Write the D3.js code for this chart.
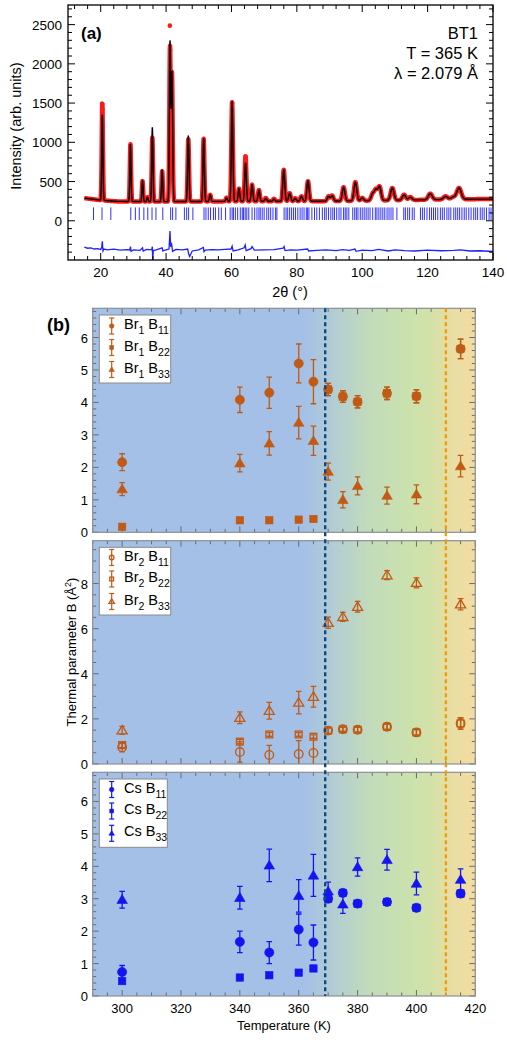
<!DOCTYPE html>
<html><head><meta charset="utf-8">
<script src="https://cdn.jsdelivr.net/npm/d3@7"></script>
<style>
html,body{margin:0;padding:0;background:#fff;}
svg{display:block;font-family:"Liberation Sans",Arial,Helvetica,sans-serif;}
</style></head>
<body><svg id="chart" width="507" height="1040"></svg>
<script>
// ---------- Panel (a) data ----------
const xTicksA = [20, 40, 60, 80, 100, 120, 140];
const yTicksA = [0, 500, 1000, 1500, 2000, 2500];
const bgPos = [15, 20, 25, 40, 55, 70, 90, 105, 120, 135, 140];
const bgVal = [289, 262, 247, 244, 247, 248, 250, 258, 268, 276, 276];
const peakPos = [20.5, 29.1, 32.8, 34.3, 35.8, 38.8, 41.2, 41.8, 46.8, 51.5, 53.5, 58.5, 60.2, 62.3, 64.3, 66.3, 68.4, 70.5, 73.0, 76.0, 77.8, 79.5, 81.4, 83.4, 89.7, 90.8, 94.3, 97.9, 100.0, 103.2, 104.2, 105.3, 109.2, 112.8, 114.7, 120.8, 125.5, 127.8, 129.6];
const calcTop = [1352, 978, 510, 300, 1190, 640, 2266, 1880, 1084, 1054, 330, 290, 1522, 408, 735, 460, 390, 285, 275, 650, 350, 285, 310, 510, 310, 320, 425, 490, 290, 340, 387, 430, 417, 330, 300, 345, 310, 300, 417];
const obsTop = [1490, 975, 505, 300, 1060, 630, 2200, 1880, 1040, 1045, 330, 295, 1510, 410, 820, 460, 392, 290, 280, 650, 352, 288, 312, 505, 312, 322, 428, 492, 292, 342, 390, 432, 418, 332, 302, 346, 312, 302, 418];
const peakFwhm = [0.42, 0.42, 0.42, 0.45, 0.45, 0.45, 0.45, 0.5, 0.5, 0.5, 0.55, 0.6, 0.55, 0.6, 0.6, 0.6, 0.65, 0.7, 0.7, 0.7, 0.75, 0.75, 0.8, 0.8, 0.9, 0.9, 0.95, 1.0, 1.0, 1.1, 1.1, 1.1, 1.2, 1.2, 1.2, 1.4, 1.5, 1.5, 1.6];
const obsDotX = [20.45, 20.55, 41.15, 41.25, 64.3, 60.2];
const obsDotY = [1490, 1420, 2487, 2180, 820, 1500];
const reflPos = [17.8, 20.4, 23.1, 29.2, 30.6, 31.8, 33.2, 34.4, 35.7, 36.9, 39.0, 41.4, 42.0, 43.0, 45.6, 46.3, 46.9, 48.2, 51.6, 52.2, 52.9, 53.6, 54.5, 55.1, 56.1, 56.9, 58.2, 59.6, 60.2, 60.6, 61.2, 61.9, 62.7, 63.3, 63.7, 64.2, 64.7, 65.3, 66.3, 67.1, 67.8, 68.4, 68.8, 69.4, 70.0, 70.8, 71.4, 72.0, 72.7, 73.5, 73.9, 76.1, 76.7, 77.2, 77.8, 78.4, 79.0, 79.6, 80.3, 81.0, 81.6, 82.2, 82.9, 83.3, 83.7, 84.6, 85.4, 86.1, 86.9, 87.8, 88.5, 89.0, 89.7, 90.4, 91.0, 91.5, 92.2, 92.9, 93.5, 94.3, 94.8, 95.3, 95.9, 97.1, 97.7, 98.2, 98.7, 99.4, 100.0, 100.6, 101.2, 101.8, 102.4, 103.2, 104.0, 104.5, 105.1, 105.7, 106.3, 106.9, 107.6, 108.2, 108.8, 109.4, 110.6, 112.7, 113.2, 113.9, 114.5, 115.3, 115.9, 117.8, 118.4, 119.0, 119.8, 120.6, 121.2, 121.8, 122.4, 123.1, 123.9, 124.5, 125.1, 125.9, 126.5, 127.1, 128.0, 128.6, 129.2, 129.8, 130.5, 131.2, 131.8, 132.6, 133.3, 134.1, 134.7, 135.3, 136.1, 136.7, 137.3, 138.0, 138.8, 139.4];
const diffPos = [15, 16, 17, 18, 19, 20, 20.3, 20.5, 20.7, 21, 22, 24, 26, 28, 28.9, 29.1, 29.3, 30, 32, 32.8, 33, 34, 35.6, 35.8, 35.9, 36.1, 37, 38.8, 39, 40, 40.9, 41.2, 41.4, 41.7, 42, 43, 45, 46.6, 46.9, 47.2, 48, 50, 51.4, 51.6, 52, 54, 56, 58, 59.9, 60.2, 60.5, 62, 63.9, 64.2, 64.5, 66, 66.3, 67, 70, 73, 75.8, 76.1, 76.4, 78, 80, 83.3, 83.6, 86, 89, 92, 94, 96, 97.8, 98.1, 100, 103, 105, 108, 110, 113, 116, 120, 124, 128, 130, 133, 136, 140];
const diffVal = [-335, -350, -345, -360, -355, -365, -340, -262, -385, -360, -370, -362, -375, -368, -372, -330, -390, -370, -378, -345, -385, -365, -370, -330, -500, -380, -372, -345, -385, -370, -360, -130, -330, -300, -390, -365, -372, -360, -420, -455, -385, -370, -340, -395, -375, -368, -372, -365, -360, -325, -385, -370, -345, -310, -380, -355, -330, -375, -370, -368, -350, -328, -380, -372, -375, -360, -385, -378, -372, -380, -368, -378, -360, -390, -375, -380, -365, -385, -372, -380, -385, -375, -382, -378, -370, -385, -382, -392];

// ---------- Panel (b) data ----------
const temps = [300, 340, 350, 360, 365, 370, 375, 380, 390, 400, 415];
const xTicksB = [300, 320, 340, 360, 380, 400, 420];
const transitionT = [369, 410];
const br1B11 = [2.16, 4.08, 4.30, 5.20, 4.64, 4.40, 4.18, 4.02, 4.28, 4.19, 5.65];
const br1B11Err = [0.26, 0.39, 0.48, 0.60, 0.68, 0.19, 0.18, 0.19, 0.19, 0.20, 0.30];
const br1B22 = [0.17, 0.37, 0.37, 0.39, 0.41, 4.40, 4.18, 4.02, 4.28, 4.19, 5.65];
const br1B22Err = [0.02, 0.02, 0.02, 0.02, 0.02, 0.19, 0.18, 0.19, 0.19, 0.20, 0.30];
const br1B33 = [1.33, 2.13, 2.74, 3.38, 2.82, 1.87, 1.00, 1.43, 1.13, 1.17, 2.04];
const br1B33Err = [0.20, 0.27, 0.36, 0.50, 0.45, 0.26, 0.25, 0.28, 0.26, 0.29, 0.33];
const br2B11 = [0.74, 0.53, 0.40, 0.44, 0.49, 1.48, 1.54, 1.52, 1.65, 1.40, 1.80];
const br2B11Err = [0.20, 0.45, 0.43, 0.60, 0.65, 0.12, 0.10, 0.11, 0.12, 0.12, 0.25];
const br2B22 = [0.84, 0.99, 1.31, 1.31, 1.21, 1.48, 1.54, 1.52, 1.65, 1.40, 1.80];
const br2B22Err = [0.12, 0.10, 0.08, 0.08, 0.08, 0.12, 0.10, 0.11, 0.12, 0.12, 0.25];
const br2B33 = [1.49, 2.05, 2.36, 2.72, 2.98, 6.26, 6.52, 6.97, 8.37, 8.03, 7.08];
const br2B33Err = [0.18, 0.26, 0.37, 0.50, 0.46, 0.25, 0.20, 0.24, 0.20, 0.22, 0.25];
const csB11 = [0.74, 1.67, 1.34, 2.05, 1.65, 3.00, 3.18, 2.85, 2.90, 2.72, 3.16];
const csB11Err = [0.20, 0.33, 0.34, 0.48, 0.54, 0.08, 0.08, 0.08, 0.08, 0.08, 0.10];
const csB22 = [0.46, 0.57, 0.64, 0.72, 0.85, 3.00, 3.18, 2.85, 2.90, 2.72, 3.16];
const csB22Err = [0.03, 0.03, 0.03, 0.03, 0.03, 0.08, 0.08, 0.08, 0.08, 0.08, 0.10];
const csB33 = [2.97, 3.03, 4.03, 3.09, 3.72, 3.23, 2.83, 3.98, 4.20, 3.47, 3.59];
const csB33Err = [0.26, 0.35, 0.50, 0.50, 0.65, 0.28, 0.28, 0.28, 0.32, 0.35, 0.33];

// ---------- Drawing ----------
const svg = d3.select("#chart");

// ===== Panel (a) =====
const aL = 68, aR = 493, aT = 5, aB = 260;
const xA = d3.scaleLinear().domain([10, 140]).range([aL, aR]);
const yA = d3.scaleLinear().domain([-500, 2750]).range([aB, aT]);
const gA = svg.append("g");
gA.append("defs").append("clipPath").attr("id", "clipA")
  .append("rect").attr("x", aL).attr("y", aT).attr("width", aR - aL).attr("height", aB - aT);

const bgInterp = x => {
  let i = d3.bisectRight(bgPos, x) - 1;
  i = Math.max(0, Math.min(bgPos.length - 2, i));
  const t = (x - bgPos[i]) / (bgPos[i + 1] - bgPos[i]);
  return bgVal[i] + t * (bgVal[i + 1] - bgVal[i]);
};
function profile(tops) {
  const pts = [];
  for (let x = 15; x <= 140.0001; x += 0.02) {
    let v = bgInterp(x);
    for (let k = 0; k < peakPos.length; k++) {
      const d = x - peakPos[k];
      const w = peakFwhm[k];
      if (Math.abs(d) < 4 * w) v += (tops[k] - bgInterp(peakPos[k])) * Math.exp(-4 * Math.LN2 * d * d / (w * w));
    }
    pts.push([x, v]);
  }
  return pts;
}
const lineA = d3.line().x(d => xA(d[0])).y(d => yA(d[1]));
const plotA = gA.append("g").attr("clip-path", "url(#clipA)");
plotA.append("path").datum(profile(obsTop)).attr("d", lineA)
  .attr("fill", "none").attr("stroke", "#ff1a1a").attr("stroke-width", 4.5).attr("stroke-linejoin", "round");
plotA.selectAll("circle.od").data(obsDotX).enter().append("circle")
  .attr("cx", d => xA(d)).attr("cy", (d, i) => yA(obsDotY[i])).attr("r", 2.3).attr("fill", "#ff1a1a");
plotA.append("path").datum(profile(calcTop)).attr("d", lineA)
  .attr("fill", "none").attr("stroke", "#000").attr("stroke-width", 1.4);
plotA.selectAll("line.refl").data(reflPos).enter().append("line")
  .attr("x1", d => xA(d)).attr("x2", d => xA(d))
  .attr("y1", yA(170)).attr("y2", yA(10)).attr("stroke", "#3030ff").attr("stroke-width", 1);
plotA.append("path").datum(diffPos.map((p, i) => [p, diffVal[i]])).attr("d", lineA)
  .attr("fill", "none").attr("stroke", "#2020ff").attr("stroke-width", 1.3);

gA.append("rect").attr("x", aL).attr("y", aT).attr("width", aR - aL).attr("height", aB - aT)
  .attr("fill", "none").attr("stroke", "#000").attr("stroke-width", 1.3);
const minorXA = d3.range(12, 140, 4).filter(v => !xTicksA.includes(v));
const minorYA = d3.range(-400, 2750, 100).filter(v => !yTicksA.includes(v));
function tickLines(g, vals, scale, orient, len, x0, x1, color) {
  vals.forEach(v => {
    if (orient === "x") {
      const x = scale(v);
      g.append("line").attr("x1", x).attr("x2", x).attr("y1", x1).attr("y2", x1 - len).attr("stroke", color).attr("stroke-width", 1);
      g.append("line").attr("x1", x).attr("x2", x).attr("y1", x0).attr("y2", x0 + len).attr("stroke", color).attr("stroke-width", 1);
    } else {
      const y = scale(v);
      g.append("line").attr("x1", x0).attr("x2", x0 + len).attr("y1", y).attr("y2", y).attr("stroke", color).attr("stroke-width", 1);
      g.append("line").attr("x1", x1).attr("x2", x1 - len).attr("y1", y).attr("y2", y).attr("stroke", color).attr("stroke-width", 1);
    }
  });
}
tickLines(gA, xTicksA, xA, "x", 7, aT, aB, "#000");
tickLines(gA, minorXA, xA, "x", 4, aT, aB, "#000");
tickLines(gA, yTicksA, yA, "y", 7, aL, aR, "#000");
tickLines(gA, minorYA, yA, "y", 4, aL, aR, "#000");
gA.selectAll("text.xl").data(xTicksA).enter().append("text")
  .attr("x", d => xA(d)).attr("y", 277).attr("text-anchor", "middle")
  .attr("font-size", 13.5).attr("fill", "#000").text(d => d);
gA.selectAll("text.yl").data(yTicksA).enter().append("text")
  .attr("x", 62).attr("y", d => yA(d) + 5).attr("text-anchor", "end")
  .attr("font-size", 13.5).attr("fill", "#000").text(d => d);
gA.append("text").attr("x", 290).attr("y", 297).attr("text-anchor", "middle")
  .attr("font-size", 14.5).text("2θ (°)");
gA.append("text").attr("transform", "translate(21,126) rotate(-90)").attr("text-anchor", "middle")
  .attr("font-size", 14.5).text("Intensity (arb. units)");
gA.append("text").attr("x", 81).attr("y", 39).attr("font-size", 17).attr("font-weight", "bold").text("(a)");
["BT1", "T = 365 K", "λ = 2.079 Å"].forEach((t, i) => {
  gA.append("text").attr("x", 478).attr("y", 39 + i * 20).attr("text-anchor", "end")
    .attr("font-size", 16.5).text(t);
});

// ===== Panel (b) =====
const bL = 92.7, bR = 475.3;
const xB = d3.scaleLinear().domain([290, 420]).range([bL, bR]);
const defs = svg.append("defs");
const grad = defs.append("linearGradient").attr("id", "bgGrad")
  .attr("gradientUnits", "userSpaceOnUse").attr("x1", bL).attr("x2", bR).attr("y1", 0).attr("y2", 0);
[[290, "#a4c0e6"], [362, "#a4c0e6"], [372, "#b3cdd2"], [384, "#c2dbbb"], [398, "#cbe2ad"], [405, "#d3e1a8"], [412, "#e8dea4"], [420, "#f4dca0"]]
  .forEach(s => grad.append("stop").attr("offset", (s[0] - 290) / 130).attr("stop-color", s[1]));

const BR = "#c05a14", CS = "#1414f0";
const panels = [
  { top: 308.3, bot: 532.3, max: 6.9, major: [0, 1, 2, 3, 4, 5, 6], minorStep: 0.2 },
  { top: 540.7, bot: 764, max: 9.9, major: [0, 2, 4, 6, 8], minorStep: 0.5 },
  { top: 772.3, bot: 996, max: 6.9, major: [0, 1, 2, 3, 4, 5, 6], minorStep: 0.2 }
];
const seriesSets = [
  [{ v: br1B22, e: br1B22Err, m: "square", fill: true, c: BR },
   { v: br1B11, e: br1B11Err, m: "circle", fill: true, c: BR },
   { v: br1B33, e: br1B33Err, m: "triangle", fill: true, c: BR }],
  [{ v: br2B22, e: br2B22Err, m: "square", fill: false, c: BR },
   { v: br2B11, e: br2B11Err, m: "circle", fill: false, c: BR },
   { v: br2B33, e: br2B33Err, m: "triangle", fill: false, c: BR }],
  [{ v: csB22, e: csB22Err, m: "square", fill: true, c: CS },
   { v: csB11, e: csB11Err, m: "circle", fill: true, c: CS },
   { v: csB33, e: csB33Err, m: "triangle", fill: true, c: CS }]
];
const legends = [
  { el: "Br", sub: "1", c: BR, marks: ["circle", "square", "triangle"], fill: true, box: [99.3, 315, 71.4, 68], ys: [326, 347.5, 369.5] },
  { el: "Br", sub: "2", c: BR, marks: ["circle", "square", "triangle"], fill: false, box: [99.3, 547.3, 71.4, 67.7], ys: [557.5, 579, 601.5] },
  { el: "Cs", sub: "", c: CS, marks: ["circle", "square", "triangle"], fill: true, box: [99.3, 779, 68, 68.3], ys: [789.5, 811, 833.3] }
];
const bsubs = ["11", "22", "33"];

function marker(g, type, x, y, size, color, filled) {
  let el;
  if (type === "circle") el = g.append("circle").attr("cx", x).attr("cy", y).attr("r", size);
  else if (type === "square") el = g.append("rect").attr("x", x - size).attr("y", y - size).attr("width", 2 * size).attr("height", 2 * size);
  else {
    const h = size * 1.85, w = size * 1.1;
    el = g.append("path").attr("d", `M${x},${y - h * 0.58}L${x + w},${y + h * 0.42}L${x - w},${y + h * 0.42}Z`);
  }
  if (filled) el.attr("fill", color).attr("stroke", color).attr("stroke-width", 0.6);
  else el.attr("fill", "none").attr("stroke", color).attr("stroke-width", 1.3);
}

const gB = svg.append("g");
panels.forEach((p, pi) => {
  const y = d3.scaleLinear().domain([0, p.max]).range([p.bot, p.top]);
  const g = gB.append("g");
  const cid = "clipB" + pi;
  defs.append("clipPath").attr("id", cid).append("rect").attr("x", bL).attr("y", p.top).attr("width", bR - bL).attr("height", p.bot - p.top);
  g.append("rect").attr("x", bL).attr("y", p.top).attr("width", bR - bL).attr("height", p.bot - p.top).attr("fill", "url(#bgGrad)");
  const minorX = d3.range(290, 420.01, 5).filter(v => !xTicksB.includes(v));
  tickLines(g, xTicksB, xB, "x", 6, p.top, p.bot, "#6b6b6b");
  tickLines(g, minorX, xB, "x", 3.5, p.top, p.bot, "#6b6b6b");
  const minorY = d3.range(0, p.max, p.minorStep).map(v => +v.toFixed(2)).filter(v => !p.major.includes(v));
  tickLines(g, p.major, y, "y", 6, bL, bR, "#6b6b6b");
  tickLines(g, minorY, y, "y", 3.5, bL, bR, "#6b6b6b");
  g.selectAll("text.yl").data(p.major).enter().append("text")
    .attr("x", 88).attr("y", d => y(d) + 5).attr("text-anchor", "end").attr("font-size", 13).text(d => d);
  const pg = g.append("g").attr("clip-path", `url(#${cid})`);
  seriesSets[pi].forEach(s => {
    temps.forEach((t, i) => {
      const cx = xB(t), v = s.v[i], e = s.e[i];
      const y1 = y(v - e), y2 = y(v + e);
      pg.append("line").attr("x1", cx).attr("x2", cx).attr("y1", y1).attr("y2", y2).attr("stroke", s.c).attr("stroke-width", 1.3);
      pg.append("line").attr("x1", cx - 2.8).attr("x2", cx + 2.8).attr("y1", y1).attr("y2", y1).attr("stroke", s.c).attr("stroke-width", 1.3);
      pg.append("line").attr("x1", cx - 2.8).attr("x2", cx + 2.8).attr("y1", y2).attr("y2", y2).attr("stroke", s.c).attr("stroke-width", 1.3);
    });
  });
  seriesSets[pi].forEach(s => {
    temps.forEach((t, i) => {
      const sz = s.m === "circle" ? (s.fill ? 4.6 : 4.3) : s.m === "square" ? (s.fill ? 3.7 : 3.4) : (s.fill ? 4.8 : 4.6);
      marker(pg, s.m, xB(t), y(s.v[i]), sz, s.c, s.fill);
    });
  });
  g.append("rect").attr("x", bL).attr("y", p.top).attr("width", bR - bL).attr("height", p.bot - p.top)
    .attr("fill", "none").attr("stroke", "#8a8f96").attr("stroke-width", 1.2);
  const L = legends[pi];
  const lg = g.append("g");
  lg.append("rect").attr("x", L.box[0]).attr("y", L.box[1]).attr("width", L.box[2]).attr("height", L.box[3])
    .attr("fill", "#fff").attr("stroke", "#8a8a8a").attr("stroke-width", 1);
  L.marks.forEach((m, k) => {
    const ly = L.ys[k], lx = 111.7;
    lg.append("line").attr("x1", lx).attr("x2", lx).attr("y1", ly - 8).attr("y2", ly + 8).attr("stroke", L.c).attr("stroke-width", 1.2);
    lg.append("line").attr("x1", lx - 2.5).attr("x2", lx + 2.5).attr("y1", ly - 8).attr("y2", ly - 8).attr("stroke", L.c).attr("stroke-width", 1.2);
    lg.append("line").attr("x1", lx - 2.5).attr("x2", lx + 2.5).attr("y1", ly + 8).attr("y2", ly + 8).attr("stroke", L.c).attr("stroke-width", 1.2);
    marker(lg, m, lx, ly, m === "circle" ? 2.3 : m === "square" ? 1.9 : 2.5, L.c, L.fill);
    const tx = lg.append("text").attr("x", 124).attr("y", ly + 3).attr("font-size", 14.5).attr("fill", "#000");
    tx.append("tspan").text(L.el);
    if (L.sub) tx.append("tspan").attr("font-size", 10.5).attr("dy", 5).text(L.sub);
    tx.append("tspan").attr("dy", L.sub ? -5 : 0).text(" B");
    tx.append("tspan").attr("font-size", 10.5).attr("dy", 5).text(bsubs[k]);
  });
});

const dashColors = ["#0b4a86", "#f79a0a"];
transitionT.forEach((t, i) => {
  gB.append("line").attr("x1", xB(t)).attr("x2", xB(t)).attr("y1", 308.3).attr("y2", 996)
    .attr("stroke", dashColors[i]).attr("stroke-width", 2.4).attr("stroke-dasharray", "4,3");
});

gB.selectAll("text.xb").data(xTicksB).enter().append("text")
  .attr("x", d => xB(d)).attr("y", 1013).attr("text-anchor", "middle").attr("font-size", 13).text(d => d);
gB.append("text").attr("x", 284).attr("y", 1030).attr("text-anchor", "middle").attr("font-size", 13).text("Temperature (K)");
const yl = gB.append("text").attr("transform", "translate(76,652) rotate(-90)").attr("text-anchor", "middle").attr("font-size", 13);
yl.append("tspan").text("Thermal parameter B (Å");
yl.append("tspan").attr("font-size", 9).attr("dy", -5).text("2");
yl.append("tspan").attr("dy", 5).text(")");
gB.append("text").attr("x", 47).attr("y", 331).attr("font-size", 18).attr("font-weight", "bold").text("(b)");
</script></body></html>
